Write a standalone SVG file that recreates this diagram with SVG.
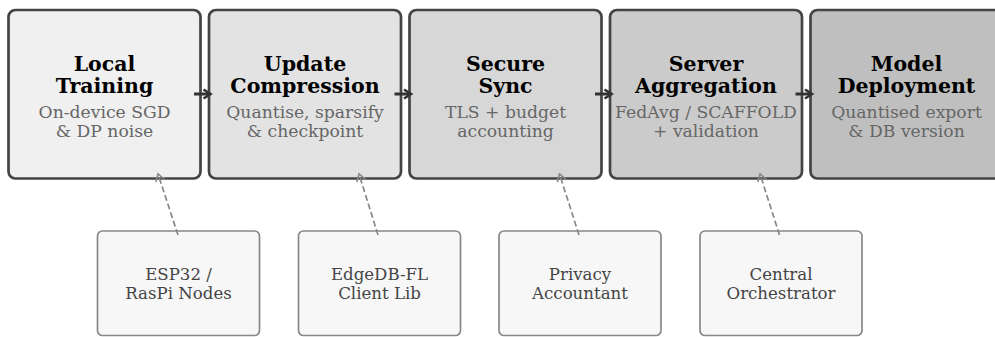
<svg xmlns="http://www.w3.org/2000/svg" width="995" height="337" viewBox="0 0 995 337">
<style>
.stage{stroke:#444;stroke-width:2.7}
.aux{fill:#f7f7f7;stroke:#888;stroke-width:1.7}
.t{font-family:"DejaVu Serif",serif;font-size:20.5px;font-weight:bold;fill:#000;text-anchor:middle}
.s{font-family:"DejaVu Serif",serif;font-size:17.2px;fill:#666;text-anchor:middle}
.a{font-family:"DejaVu Serif",serif;font-size:16.6px;fill:#444;text-anchor:middle}
.flow{stroke:#333;stroke-width:3;fill:none}
.dep{stroke:#888;stroke-width:1.7;stroke-dasharray:6 3;fill:none}
</style>
<defs>
<marker id="ah" markerWidth="12" markerHeight="12" refX="9" refY="6" orient="auto" markerUnits="userSpaceOnUse">
<path d="M2,1.5 L9,6 L2,10.5" fill="none" stroke="#333" stroke-width="2.6"/>
</marker>
<marker id="oh" markerWidth="12" markerHeight="12" refX="10" refY="6" orient="auto" markerUnits="userSpaceOnUse">
<path d="M3,1.5 L10,6 L3,10.5" fill="none" stroke="#888" stroke-width="1.6"/>
</marker>
</defs>
<g id="n1"><rect class="stage" x="8.5" y="10" width="192" height="168.5" rx="7" fill="#f0f0f0"/>
<text class="t" x="104.5" y="71">Local</text><text class="t" x="104.5" y="93">Training</text>
<text class="s" x="104.5" y="118">On-device SGD</text><text class="s" x="104.5" y="136.5">&amp; DP noise</text></g>
<g id="n2"><rect class="stage" x="209" y="10" width="192" height="168.5" rx="7" fill="#e3e3e3"/>
<text class="t" x="305" y="71">Update</text><text class="t" x="305" y="93">Compression</text>
<text class="s" x="305" y="118">Quantise, sparsify</text><text class="s" x="305" y="136.5">&amp; checkpoint</text></g>
<g id="n3"><rect class="stage" x="409.5" y="10" width="192" height="168.5" rx="7" fill="#d7d7d7"/>
<text class="t" x="505.5" y="71">Secure</text><text class="t" x="505.5" y="93">Sync</text>
<text class="s" x="505.5" y="118">TLS + budget</text><text class="s" x="505.5" y="136.5">accounting</text></g>
<g id="n4"><rect class="stage" x="610" y="10" width="192" height="168.5" rx="7" fill="#cbcbcb"/>
<text class="t" x="706" y="71">Server</text><text class="t" x="706" y="93">Aggregation</text>
<text class="s" x="706" y="118">FedAvg / SCAFFOLD</text><text class="s" x="706" y="136.5">+ validation</text></g>
<g id="n5"><rect class="stage" x="810.5" y="10" width="192" height="168.5" rx="7" fill="#bfbfbf"/>
<text class="t" x="906.5" y="71">Model</text><text class="t" x="906.5" y="93">Deployment</text>
<text class="s" x="906.5" y="118">Quantised export</text><text class="s" x="906.5" y="136.5">&amp; DB version</text></g>
<g id="b1"><rect class="aux" x="97.5" y="231" width="162" height="104.5" rx="5"/>
<text class="a" x="178.5" y="279.5">ESP32 /</text><text class="a" x="178.5" y="298.5">RasPi Nodes</text></g>
<g id="b2"><rect class="aux" x="298.5" y="231" width="162" height="104.5" rx="5"/>
<text class="a" x="379.5" y="279.5">EdgeDB-FL</text><text class="a" x="379.5" y="298.5">Client Lib</text></g>
<g id="b3"><rect class="aux" x="499" y="231" width="162" height="104.5" rx="5"/>
<text class="a" x="580" y="279.5">Privacy</text><text class="a" x="580" y="298.5">Accountant</text></g>
<g id="b4"><rect class="aux" x="700" y="231" width="162" height="104.5" rx="5"/>
<text class="a" x="781" y="279.5">Central</text><text class="a" x="781" y="298.5">Orchestrator</text></g>
<g id="connectors">
<line class="flow" x1="194" y1="94" x2="210.5" y2="94" marker-end="url(#ah)"/>
<line class="flow" x1="394.5" y1="94" x2="411" y2="94" marker-end="url(#ah)"/>
<line class="flow" x1="595" y1="94" x2="611.5" y2="94" marker-end="url(#ah)"/>
<line class="flow" x1="795.5" y1="94" x2="812" y2="94" marker-end="url(#ah)"/>
<line class="dep" x1="178" y1="235" x2="158" y2="174" marker-end="url(#oh)"/>
<line class="dep" x1="378" y1="235" x2="359" y2="174" marker-end="url(#oh)"/>
<line class="dep" x1="579" y1="235" x2="559.5" y2="174" marker-end="url(#oh)"/>
<line class="dep" x1="779.5" y1="235" x2="760" y2="174" marker-end="url(#oh)"/>
</g>
</svg>
